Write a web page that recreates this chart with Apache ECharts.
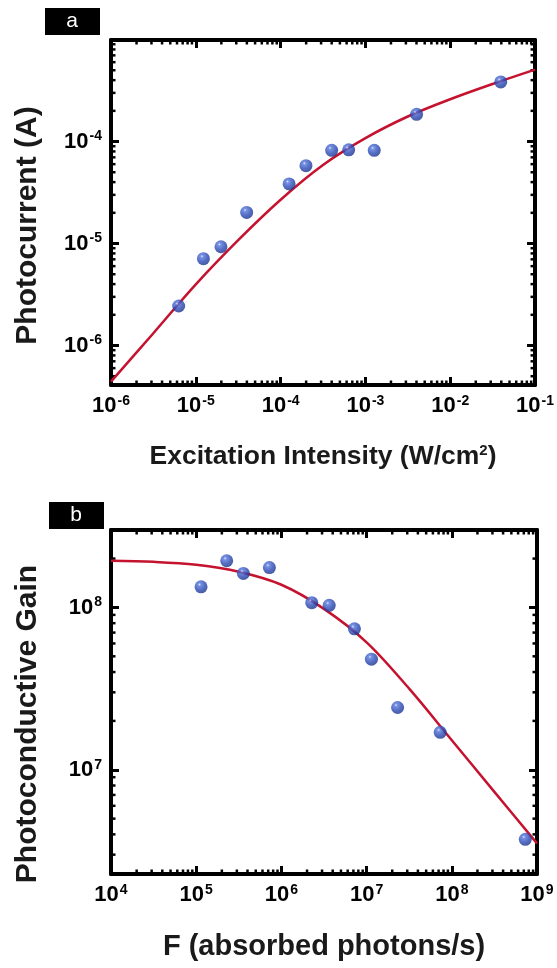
<!DOCTYPE html>
<html>
<head>
<meta charset="utf-8">
<script src="https://cdn.jsdelivr.net/npm/echarts@6/dist/echarts.min.js"></script>
<style>
  html, body { margin: 0; padding: 0; background: #fff; }
  #chart { width: 557px; height: 968px; }
</style>
</head>
<body>
<div id="chart"></div>
<script>
// panel a - photocurrent vs excitation intensity
const intensity = [6.28e-6, 1.23e-5, 1.98e-5, 3.98e-5, 1.26e-4, 1.99e-4, 4.0e-4, 6.35e-4, 1.27e-3, 4.01e-3, 3.94e-2];
const photocurrent = [2.44e-6, 7.1e-6, 9.3e-6, 2.02e-5, 3.84e-5, 5.8e-5, 8.2e-5, 8.3e-5, 8.2e-5, 1.85e-4, 3.84e-4];
// fit curve
const fitIntensity = [1e-6, 3.16e-6, 1e-5, 3.16e-5, 1e-4, 3.16e-4, 1e-3, 3.16e-3, 1e-2, 3.16e-2, 1e-1];
const fitCurrent = [4.42e-7, 1.32e-6, 3.98e-6, 1.08e-5, 2.69e-5, 5.89e-5, 1.08e-4, 1.76e-4, 2.6e-4, 3.67e-4, 5.07e-4];

// panel b - gain vs absorbed photon flux
const flux = [1.14e5, 2.28e5, 3.58e5, 7.23e5, 2.27e6, 3.64e6, 7.2e6, 1.14e7, 2.31e7, 7.31e7, 7.29e8];
const gain = [1.34e8, 1.94e8, 1.62e8, 1.76e8, 1.07e8, 1.03e8, 7.38e7, 4.8e7, 2.42e7, 1.7e7, 3.73e6];
const fitFlux = [1e4, 3.16e4, 1e5, 3.16e5, 1e6, 3.16e6, 1e7, 3.16e7, 1e8, 3.16e8, 1e9];
const fitGain = [1.94e8, 1.91e8, 1.83e8, 1.66e8, 1.38e8, 9.8e7, 6.1e7, 3.16e7, 1.52e7, 7.31e6, 3.52e6];

// axis ranges
const aX = [1e-6, 1e-1];
const aY = [4.1e-7, 9.9e-4];
const bX = [1e4, 1e9];
const bY = [2.28e6, 3.0e8];

// minor ticks at 2..9 of every decade
const minorSteps = [2, 3, 4, 5, 6, 7, 8, 9];

const FONT = '"Liberation Sans", Arial, sans-serif';
const chart = echarts.init(document.getElementById('chart'));

function zip(a, b) {
  return a.map((v, i) => [v, b[i]]);
}

function minorValues(range) {
  const out = [];
  const lo = Math.floor(Math.log10(range[0]));
  const hi = Math.ceil(Math.log10(range[1]));
  for (let e = lo; e < hi; e++) {
    minorSteps.forEach(m => {
      const v = m * Math.pow(10, e);
      if (v > range[0] && v < range[1]) out.push(v);
    });
  }
  return out;
}

// only label whole decades, as 10 with superscript
function powLabel(v) {
  const l = Math.log10(v);
  const e = Math.round(l);
  if (Math.abs(l - e) > 1e-6) return '';
  return '{b|10}{s|' + e + '}';
}

const labelRich = {
  b: { fontSize: 22, fontWeight: 'bold', fontFamily: FONT, color: '#000' },
  s: { fontSize: 14, fontWeight: 'bold', fontFamily: FONT, color: '#000', verticalAlign: 'top', padding: [0, 0, 10, 1] }
};

function logAxis(grid, pos, range, showLabel, name, nameGap, nameSize, namePad) {
  return {
    type: 'log',
    logBase: 10,
    gridIndex: grid,
    position: pos,
    min: range[0],
    max: range[1],
    name: name || '',
    nameLocation: 'middle',
    nameGap: nameGap || 0,
    nameTextStyle: {
      fontSize: nameSize || 20, fontWeight: 'bold', fontFamily: FONT, color: '#1a1a1a',
      padding: namePad || 0,
      rich: { sup: { fontSize: 15, fontWeight: 'bold', fontFamily: FONT, color: '#1a1a1a', verticalAlign: 'top', padding: [0, 0, 12, 0] } }
    },
    axisLine: { show: true, onZero: false, lineStyle: { color: '#000', width: 4 } },
    axisTick: { show: true, inside: true, length: 8, lineStyle: { color: '#000', width: 3 } },
    minorTick: { show: false },
    splitLine: { show: false },
    axisLabel: {
      show: showLabel,
      margin: 9,
      formatter: powLabel,
      rich: labelRich
    }
  };
}

// minor ticks drawn on both opposite edges of the plot frame
function minorTickSeries(xi, yi, values, dir, other) {
  return {
    type: 'custom',
    xAxisIndex: xi,
    yAxisIndex: yi,
    silent: true,
    z: 1,
    data: values.map(v => dir === 'x' ? [v, other] : [other, v]),
    renderItem: function (params, api) {
      const cs = params.coordSys;
      const p = api.coord([api.value(0), api.value(1)]);
      const st = { stroke: '#000', lineWidth: 2.5 };
      const L = 4.5;
      if (dir === 'x') {
        const b = cs.y + cs.height;
        return {
          type: 'group', children: [
            { type: 'line', shape: { x1: p[0], y1: b, x2: p[0], y2: b - L }, style: st },
            { type: 'line', shape: { x1: p[0], y1: cs.y, x2: p[0], y2: cs.y + L }, style: st }
          ]
        };
      }
      const r = cs.x + cs.width;
      return {
        type: 'group', children: [
          { type: 'line', shape: { x1: cs.x, y1: p[1], x2: cs.x + L, y2: p[1] }, style: st },
          { type: 'line', shape: { x1: r, y1: p[1], x2: r - L, y2: p[1] }, style: st }
        ]
      };
    }
  };
}

const ball = new echarts.graphic.RadialGradient(0.38, 0.32, 0.7, [
  { offset: 0, color: '#dfe6ff' },
  { offset: 0.16, color: '#5577dc' },
  { offset: 0.6, color: '#2a49b4' },
  { offset: 1, color: '#1a328c' }
]);

const fitLine = { color: '#c4122f', width: 2.5 };

const option = {
  animation: false,
  backgroundColor: '#fff',
  grid: [
    { left: 111, top: 40, width: 426, height: 345 },
    { left: 111, top: 530, width: 426, height: 344 }
  ],
  xAxis: [
    logAxis(0, 'bottom', aX, true, 'Excitation Intensity (W/cm{sup|2})', 58, 26.5),
    logAxis(0, 'top', aX, false),
    logAxis(1, 'bottom', bX, true, 'F (absorbed photons/s)', 58, 29),
    logAxis(1, 'top', bX, false)
  ],
  yAxis: [
    logAxis(0, 'left', aY, true, 'Photocurrent (A)', 68, 30, [0, 26, 0, 0]),
    logAxis(0, 'right', aY, false),
    logAxis(1, 'left', bY, true, 'Photoconductive Gain', 68, 30, [0, 44, 0, 0]),
    logAxis(1, 'right', bY, false)
  ],
  graphic: [
    { type: 'rect', left: 45, top: 8, shape: { width: 55, height: 27 }, style: { fill: '#000' } },
    { type: 'text', x: 72, y: 21, style: { text: 'a', fill: '#fff', font: '21px ' + FONT, align: 'center', verticalAlign: 'middle' } },
    { type: 'rect', left: 49, top: 502, shape: { width: 55, height: 27 }, style: { fill: '#000' } },
    { type: 'text', x: 76, y: 515, style: { text: 'b', fill: '#fff', font: '21px ' + FONT, align: 'center', verticalAlign: 'middle' } }
  ],
  series: [
    minorTickSeries(0, 0, minorValues(aX), 'x', aY[0]),
    minorTickSeries(0, 0, minorValues(aY), 'y', aX[0]),
    minorTickSeries(2, 2, minorValues(bX), 'x', bY[0]),
    minorTickSeries(2, 2, minorValues(bY), 'y', bX[0]),
    {
      type: 'line', xAxisIndex: 0, yAxisIndex: 0, data: zip(fitIntensity, fitCurrent),
      smooth: 0.35, showSymbol: false, lineStyle: fitLine, z: 2
    },
    {
      type: 'scatter', xAxisIndex: 0, yAxisIndex: 0, data: zip(intensity, photocurrent),
      symbolSize: 13, itemStyle: { color: ball }, z: 3
    },
    {
      type: 'line', xAxisIndex: 2, yAxisIndex: 2, data: zip(fitFlux, fitGain),
      smooth: 0.35, showSymbol: false, lineStyle: fitLine, z: 2
    },
    {
      type: 'scatter', xAxisIndex: 2, yAxisIndex: 2, data: zip(flux, gain),
      symbolSize: 13, itemStyle: { color: ball }, z: 3
    }
  ]
};

chart.setOption(option);
</script>
</body>
</html>
